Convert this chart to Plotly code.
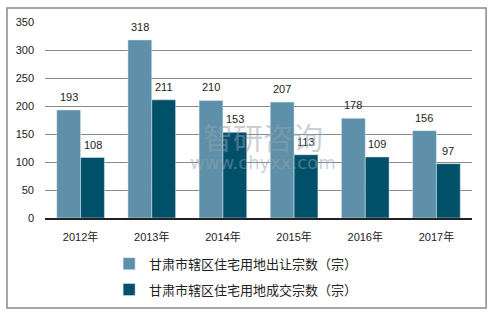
import plotly.graph_objects as go

years = ["2012年", "2013年", "2014年", "2015年", "2016年", "2017年"]
supply = [193, 318, 210, 207, 178, 156]
deals = [108, 211, 153, 113, 109, 97]
names = ["甘肃市辖区住宅用地出让宗数（宗）", "甘肃市辖区住宅用地成交宗数（宗）"]
y_ticks = [0, 50, 100, 150, 200, 250, 300, 350]

c1 = "#5E91A9"
c2 = "#01506A"
font = "Liberation Sans, Noto Sans CJK SC, sans-serif"

fig = go.Figure()
fig.add_trace(go.Bar(x=years, y=supply, name=names[0], marker_color=c1,
                     legendgroup="a"))
fig.add_trace(go.Bar(x=years, y=deals, name=names[1], marker_color=c2,
                     legendgroup="b"))

ann = []
for i, yv in enumerate(years):
    ann.append(dict(x=yv, y=supply[i], xref="x", yref="y", text=str(supply[i]),
                    showarrow=False, xshift=-12, yanchor="bottom", yshift=5,
                    font=dict(size=11, color="#222", family=font)))
    ann.append(dict(x=yv, y=deals[i], xref="x", yref="y", text=str(deals[i]),
                    showarrow=False, xshift=12, yanchor="bottom", yshift=5,
                    font=dict(size=11, color="#222", family=font)))
# watermark
ann.append(dict(x=0.51, y=0.42, xref="paper", yref="paper", text="智研咨询",
                showarrow=False, font=dict(size=30, color="rgba(150,160,175,0.5)",
                                           family="Noto Sans CJK SC")))
ann.append(dict(x=0.51, y=0.22, xref="paper", yref="paper", text="www.chyxx.com",
                showarrow=False, font=dict(size=18, color="rgba(150,160,175,0.5)",
                                           family="DejaVu Sans")))

fig.update_layout(
    width=496, height=314,
    margin=dict(l=45, r=24, t=22, b=96, autoexpand=False),
    paper_bgcolor="white", plot_bgcolor="white",
    barmode="group", bargap=0.33, bargroupgap=0,
    font=dict(family=font, size=11, color="#222"),
    showlegend=True,
    legend=dict(xref="container", yref="container", x=0.22, y=0.208,
                xanchor="left", yanchor="top",
                font=dict(size=13, color="#222", family="Noto Sans CJK SC"),
                tracegroupgap=6, itemwidth=30, bgcolor="rgba(0,0,0,0)"),
    annotations=ann,
    shapes=[dict(type="rect", xref="paper", yref="paper",
                 x0=-0.089, x1=1.033, y0=-0.459, y1=1.071,
                 line=dict(color="#888", width=1.5), fillcolor="rgba(0,0,0,0)",
                 layer="below")],
)
fig.update_xaxes(showline=True, linecolor="#222", linewidth=1.5, ticks="",
                 ticklabelstandoff=8, tickfont=dict(size=11, family=font))
fig.update_yaxes(range=[0, 350], tickvals=y_ticks, showgrid=True, gridcolor="#8a8a8a",
                 gridwidth=1, zeroline=False, showline=False, ticks="",
                 ticklabelstandoff=10, tickfont=dict(size=11, family=font))

fig.write_html("out.html")
